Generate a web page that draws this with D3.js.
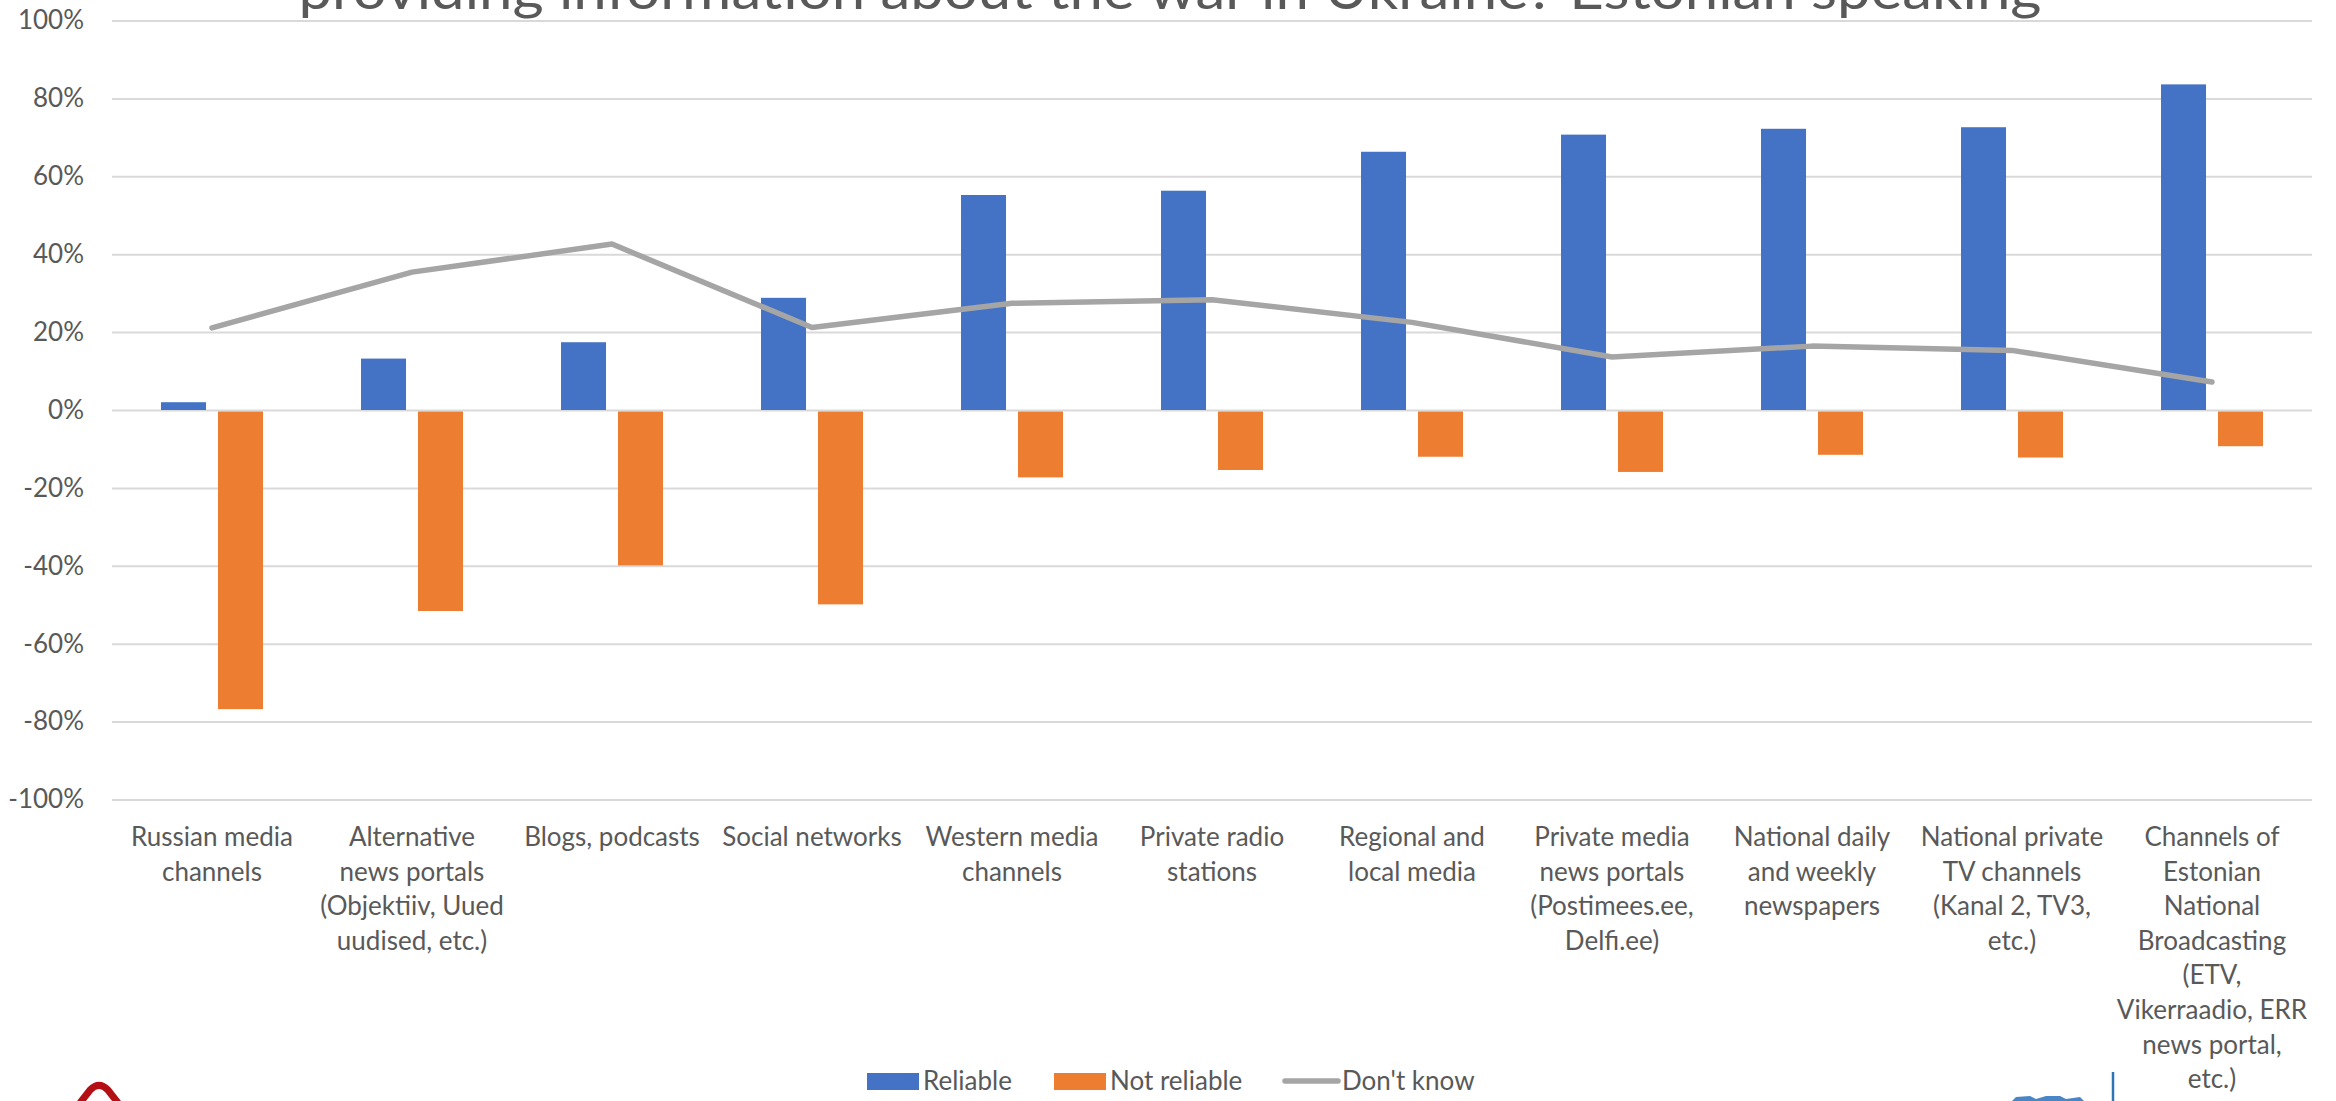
<!DOCTYPE html>
<html>
<head>
<meta charset="utf-8">
<script src="https://cdn.jsdelivr.net/npm/d3@7/dist/d3.min.js"></script>
<style>
  html, body { margin: 0; padding: 0; background: #ffffff; }
  svg { display: block; font-family: Lato, "Open Sans", sans-serif; }
</style>
</head>
<body>
<div id="chart"></div>
<script>
// ---------- data ----------
const titleText = "providing information about the war in Ukraine? Estonian speaking";

const categories = [
  ["Russian media", "channels"],
  ["Alternative", "news portals", "(Objektiiv, Uued", "uudised, etc.)"],
  ["Blogs, podcasts"],
  ["Social networks"],
  ["Western media", "channels"],
  ["Private radio", "stations"],
  ["Regional and", "local media"],
  ["Private media", "news portals", "(Postimees.ee,", "Delfi.ee)"],
  ["National daily", "and weekly", "newspapers"],
  ["National private", "TV channels", "(Kanal 2, TV3,", "etc.)"],
  ["Channels of", "Estonian", "National", "Broadcasting", "(ETV,", "Vikerraadio, ERR", "news portal,", "etc.)"]
];

const reliable    = [0.02, 0.132, 0.174, 0.288, 0.552, 0.563, 0.663, 0.707, 0.722, 0.726, 0.836];
const notReliable = [-0.768, -0.516, -0.399, -0.499, -0.173, -0.154, -0.120, -0.159, -0.115, -0.122, -0.093];
const dontKnow    = [0.211, 0.354, 0.426, 0.212, 0.274, 0.283, 0.225, 0.136, 0.164, 0.153, 0.072];

const yTicks = [-1, -0.8, -0.6, -0.4, -0.2, 0, 0.2, 0.4, 0.6, 0.8, 1];

const seriesNames = ["Reliable", "Not reliable", "Don't know"];
const colors = { "Reliable": "#4472C4", "Not reliable": "#ED7D31", "Don't know": "#A5A5A5" };

// ---------- layout ----------
const W = 2336, H = 1101;
const plot = { left: 112, right: 2312, top: 20.5, bottom: 799.5 };
const textColor = "#595959";
const fontSize = 26;

const svg = d3.select("#chart").append("svg")
  .attr("width", W).attr("height", H)
  .attr("viewBox", `0 0 ${W} ${H}`);

svg.append("rect").attr("width", W).attr("height", H).attr("fill", "#ffffff");

const keys = categories.map(c => c.join(" "));
const x = d3.scaleBand().domain(keys).range([plot.left, plot.right]).padding(0);
const xs = d3.scaleBand().domain(["Reliable", "Not reliable"])
  .range([x.bandwidth() * 0.245, x.bandwidth() * 0.755])
  .paddingInner(0.21).paddingOuter(0);
const y = d3.scaleLinear().domain([-1, 1]).range([plot.bottom, plot.top]);

// title (cut off at top, as in reference)
svg.append("text")
  .attr("x", 1170).attr("y", 9)
  .attr("text-anchor", "middle")
  .attr("font-size", 54)
  .attr("fill", textColor)
  .attr("textLength", 1743)
  .attr("lengthAdjust", "spacingAndGlyphs")
  .text(titleText);

// y axis + gridlines
const yAxis = d3.axisLeft(y)
  .tickValues(yTicks)
  .tickSize(-(plot.right - plot.left))
  .tickPadding(28)
  .tickFormat(d => Math.round(d * 100) + "%");

const gy = svg.append("g")
  .attr("transform", `translate(${plot.left},0)`)
  .call(yAxis);
gy.select(".domain").remove();
gy.selectAll(".tick line").attr("stroke", "#D9D9D9").attr("stroke-width", 2);
gy.selectAll(".tick text")
  .attr("fill", textColor)
  .attr("font-size", fontSize)
  .attr("font-family", "Lato, sans-serif");

// bars
const gBars = svg.append("g");
gBars.selectAll("rect.rel")
  .data(reliable)
  .join("rect")
  .attr("class", "rel")
  .attr("x", (d, i) => x(keys[i]) + xs("Reliable"))
  .attr("width", xs.bandwidth())
  .attr("y", d => y(Math.max(0, d)))
  .attr("height", d => Math.abs(y(d) - y(0)))
  .attr("fill", colors["Reliable"]);

gBars.selectAll("rect.nrel")
  .data(notReliable)
  .join("rect")
  .attr("class", "nrel")
  .attr("x", (d, i) => x(keys[i]) + xs("Not reliable"))
  .attr("width", xs.bandwidth())
  .attr("y", d => y(Math.max(0, d)) + 1.5)
  .attr("height", d => Math.abs(y(d) - y(0)) - 1.5)
  .attr("fill", colors["Not reliable"]);

// line
const line = d3.line()
  .x((d, i) => x(keys[i]) + x.bandwidth() / 2)
  .y(d => y(d));

svg.append("path")
  .datum(dontKnow)
  .attr("d", line)
  .attr("fill", "none")
  .attr("stroke", colors["Don't know"])
  .attr("stroke-width", 5.5)
  .attr("stroke-linejoin", "round")
  .attr("stroke-linecap", "round");

// category labels
const gx = svg.append("g");
const lab = gx.selectAll("text")
  .data(categories)
  .join("text")
  .attr("x", (d, i) => x(keys[i]) + x.bandwidth() / 2)
  .attr("y", 846)
  .attr("text-anchor", "middle")
  .attr("font-size", fontSize)
  .attr("fill", textColor);
lab.each(function(lines) {
  const t = d3.select(this);
  const cx = t.attr("x");
  lines.forEach((ln, j) => {
    t.append("tspan").attr("x", cx).attr("dy", j === 0 ? 0 : 34.6).text(ln);
  });
});

// legend
const legend = svg.append("g").attr("font-size", fontSize).attr("fill", textColor);
const legItems = [
  { name: "Reliable", type: "rect", sx: 867, tx: 923 },
  { name: "Not reliable", type: "rect", sx: 1054, tx: 1110 },
  { name: "Don't know", type: "line", sx: 1285, tx: 1342 }
];
legItems.forEach(it => {
  if (it.type === "rect") {
    legend.append("rect").attr("x", it.sx).attr("y", 1073).attr("width", 52).attr("height", 17)
      .attr("fill", colors[it.name]);
  } else {
    legend.append("line").attr("x1", it.sx).attr("x2", it.sx + 53).attr("y1", 1081).attr("y2", 1081)
      .attr("stroke", colors[it.name]).attr("stroke-width", 5.5).attr("stroke-linecap", "round");
  }
  legend.append("text").attr("x", it.tx).attr("y", 1090).text(it.name);
});

// partial logos at the bottom edge (decorative)
const deco = svg.append("g");
deco.append("path")
  .attr("d", "M80,1103 L90,1090 Q99,1081 108,1090 L118,1103")
  .attr("fill", "none").attr("stroke", "#B40F14").attr("stroke-width", 7);
deco.append("line")
  .attr("x1", 2113).attr("x2", 2113).attr("y1", 1072).attr("y2", 1101)
  .attr("stroke", "#2E75B6").attr("stroke-width", 2.5);
deco.append("path")
  .attr("d", "M2012,1101 L2016,1097 L2030,1096 L2036,1099 L2046,1096 L2060,1096 L2066,1099 L2080,1097 L2084,1101 Z")
  .attr("fill", "#4A86C5");
</script>
</body>
</html>
